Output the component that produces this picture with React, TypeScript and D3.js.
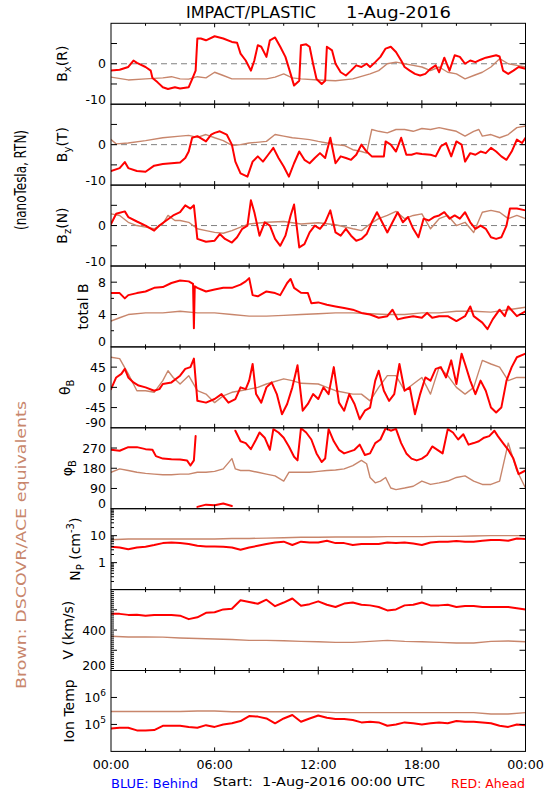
import React from "react";
import * as d3 from "d3";

type Pt = [number, number];

// ---------------- data (hour of day, value) ----------------
const bxAhead: Pt[] = [[0,-1.7],[0.5,-1.5],[1,-0.8],[1.3,0.8],[1.5,0.2],[2,-0.8],[2.3,-1.7],[2.4,-3.5],[2.7,-4.6],[3,-5.8],[3.3,-6.25],[3.7,-5.8],[4,-6.1],[4.5,-5.8],[4.7,-3.8],[4.9,-1.7],[5.0,6.25],[5.2,6.25],[5.5,5.8],[6,6.8],[6.5,6.25],[7,5.4],[7.3,5.2],[7.5,2.5],[7.8,0.8],[8.1,-1.7],[8.3,0.8],[8.5,4.6],[8.7,4.2],[9,1.7],[9.2,5.8],[9.5,6.5],[9.8,4.2],[10.1,1.7],[10.4,-2.5],[10.6,-5.4],[10.9,-4.2],[11,4.6],[11.3,4.8],[11.5,4.2],[11.7,0],[11.9,-3.75],[12.2,-5],[12.4,-4.2],[12.5,4.2],[12.8,3.3],[13,0],[13.3,-2.1],[13.6,-2.9],[13.9,-1.7],[14.2,-0.4],[14.5,-0.8],[14.8,0],[15,-0.8],[15.3,0.4],[15.6,1.7],[15.9,3.75],[16.2,4.2],[16.5,2.9],[16.8,0.8],[17,-0.8],[17.3,-1.7],[17.6,-2.5],[17.9,-2.9],[18.2,-2.5],[18.5,-1.25],[18.8,-0.4],[19,-2.1],[19.3,1.5],[19.6,-1.7],[19.9,2.1],[20.2,1.7],[20.5,0],[20.8,0.8],[21.1,0.4],[21.4,1],[21.7,1.5],[22,1.8],[22.3,2.1],[22.5,1.8],[22.7,-1.7],[23,-2.5],[23.3,-1.7],[23.6,-0.8],[24,-1.25]];
const bxBehind: Pt[] = [[0,-3.3],[1,-4],[2,-3.75],[3,-3.5],[3.5,-3.2],[4,-3.75],[4.5,-3.8],[5,-3.2],[5.5,-3.5],[6,-2.1],[6.5,-2.9],[7,-3.75],[8,-3.75],[9,-3.75],[9.5,-3.3],[10,-2.5],[10.5,-3.5],[11,-3.75],[12,-4],[13,-4.2],[14,-3.75],[15,-2.5],[15.5,-1.7],[16,0],[16.5,0.4],[17,0],[17.5,-0.4],[18,-0.8],[18.5,-1.7],[19,-0.8],[19.5,-2.1],[20,-2.5],[20.5,-3.75],[21,-2.9],[21.5,-2.1],[22,-0.8],[22.5,1.25],[23,0],[23.5,-0.4],[24,-0.8]];

const byAhead: Pt[] = [[0,-6.5],[0.5,-5.8],[0.8,-4.3],[1,-5.8],[1.5,-6.5],[2,-6.7],[2.5,-5.2],[3,-4.8],[3.5,-4.6],[4,-4.4],[4.3,-3.3],[4.5,-1.7],[4.7,1.7],[5,2.1],[5.5,0.8],[5.8,2.5],[6,2.9],[6.3,3.3],[6.7,2.5],[7,0],[7.2,-4.2],[7.5,-7.1],[7.9,-7.9],[8.2,-4.2],[8.5,-2.9],[8.8,-4.2],[9.1,-2.5],[9.4,-0.8],[9.7,-3.3],[10,-5.4],[10.3,-7.9],[10.6,-4.6],[10.9,-1.7],[11.2,-3.75],[11.5,-4.6],[11.8,-3.3],[12.1,-2.1],[12.4,-3.3],[12.7,1.7],[13,-4.6],[13.3,-2.9],[13.6,-3.3],[13.9,-3.75],[14.2,-2.5],[14.5,0],[14.8,-1.7],[15.1,-2.9],[15.4,-2.9],[15.8,-2.9],[15.9,0.8],[16.2,0],[16.5,-1.7],[16.8,1.7],[17.1,-2.5],[17.4,-2.5],[17.7,-2.1],[18,-2.3],[18.5,-2.5],[18.8,-2.9],[19.1,-0.4],[19.4,0.4],[19.7,-2.9],[20,0.8],[20.3,0],[20.5,-4.2],[20.8,-2.1],[21.1,-2.5],[21.4,-1.7],[21.7,-2.1],[22,-0.8],[22.3,-1.7],[22.6,-2.9],[22.9,-3.75],[23.2,-1.7],[23.5,1.25],[23.8,0.4],[24,1.7]];
const byBehind: Pt[] = [[0,1.25],[0.3,0.2],[1,0.4],[2,1],[3,1.7],[4,2.1],[4.5,2.3],[5,1.8],[5.5,2.5],[6,1.7],[6.5,1],[7,-0.2],[7.5,0],[8,0.4],[9,0.8],[9.5,2.5],[10,2.1],[10.5,1.7],[11,1.5],[11.5,1.25],[12,0.8],[12.5,0.4],[13,0],[13.5,-0.2],[14,-1.25],[14.5,-1.7],[14.8,-2.1],[15.1,3.75],[15.5,3.3],[16,2.9],[16.5,3.75],[17,3.75],[17.5,3.3],[18,4],[18.5,3.75],[19,4.2],[19.5,3.75],[20,3.3],[20.5,2.1],[21,3.3],[21.3,3.75],[21.5,2.1],[22,2.5],[22.5,1.7],[23,2.5],[23.5,4.2],[24,4.6]];

const bzAhead: Pt[] = [[0,0.4],[0.3,2.9],[0.8,3.5],[1,2.1],[1.5,1],[2,0],[2.5,-1.25],[2.8,0],[3.2,1.25],[3.6,2.5],[4,3.3],[4.3,5],[4.6,4.2],[4.8,5],[5,-3.3],[5.5,-4],[6,-3.75],[6.3,-2.1],[6.6,-3.3],[7,-4.2],[7.3,-2.9],[7.6,-0.8],[7.9,0],[8.1,6.25],[8.3,3.3],[8.6,-2.5],[8.9,0.8],[9.2,0],[9.5,-3.3],[9.8,-5],[10.1,-2.5],[10.4,2.5],[10.6,5.2],[10.9,-5.4],[11.2,-4.6],[11.5,-1.7],[11.8,0],[12.1,-0.8],[12.4,0.8],[12.7,3.75],[13,-1.7],[13.3,-2.5],[13.6,-0.8],[13.9,-2.5],[14.2,-3.75],[14.5,-3.3],[14.8,-2.1],[15.1,0.8],[15.4,3.3],[15.7,0.8],[16,-1.7],[16.3,0.8],[16.6,3.3],[16.9,0.8],[17.2,2.1],[17.5,-0.8],[17.8,-2.9],[18.1,1.7],[18.4,1.25],[18.7,2.1],[19,2.5],[19.3,3.3],[19.6,1.7],[19.9,2.5],[20.2,1.7],[20.5,3.3],[20.8,0.8],[21.1,-0.8],[21.4,0],[21.7,-0.8],[22,-2.9],[22.3,-3.3],[22.6,-2.9],[22.9,0],[23.1,4.2],[23.5,4.2],[24,3.75]];
const bzBehind: Pt[] = [[0,2.9],[0.5,2.5],[1,0.8],[1.5,0],[2,-0.4],[2.5,-0.8],[3,0.4],[3.3,2.5],[3.7,1.25],[4,1.25],[4.5,0.8],[5,-0.8],[5.5,-1.25],[6,-1.7],[6.5,-1.9],[7,-1.25],[7.5,-0.4],[8,0.4],[9,0.8],[10,1],[11,0.4],[12,0.7],[13,0.2],[14,-0.8],[14.5,-1.25],[15,0.4],[15.5,1.7],[16,2.5],[16.5,3.5],[17,1.7],[17.5,2.5],[18,2.9],[18.5,-0.8],[19,1.7],[19.5,2.5],[20,0],[20.5,0.8],[21,-1.7],[21.5,3.3],[22,3.75],[22.5,3.3],[23,1.7],[23.5,2.5],[24,1.7]];

const totBAhead: Pt[] = [[0,6.65],[0.5,6.65],[0.8,6.0],[1,6.4],[1.5,6.65],[2,6.85],[2.5,7.3],[3,7.4],[3.5,7.9],[4,8.2],[4.5,8.1],[4.75,7.8],[4.8,2.3],[4.85,7.5],[5,7.3],[5.5,6.85],[6,7.1],[6.5,7.3],[7,7.3],[7.5,7.7],[7.8,8.1],[8,8.5],[8.2,6.4],[8.5,6.25],[9,6.85],[9.5,6.65],[9.8,6.4],[10.2,7.9],[10.4,8.4],[10.6,7.3],[11,6.7],[11.4,6.65],[11.6,5.4],[12,5.5],[12.5,5.2],[13,5.0],[13.5,4.8],[14,4.6],[14.5,4.2],[15,4.0],[15.5,3.6],[16,3.8],[16.3,4.6],[16.6,3.4],[17,3.6],[17.5,3.8],[18,3.6],[18.3,4.2],[18.6,3.6],[19,3.8],[19.5,3.8],[20,3.2],[20.5,3.8],[20.8,5.0],[21,3.8],[21.5,3.0],[21.8,2.2],[22.1,3.4],[22.5,4.6],[22.8,3.8],[23,5.0],[23.5,3.8],[24,4.4]];
const totBBehind: Pt[] = [[0,3.2],[0.5,3.6],[1,4.0],[2,4.2],[3,4.2],[4,4.4],[5,4.2],[6,4.2],[7,4.0],[8,3.8],[9,3.8],[10,3.9],[11,4.0],[12,4.1],[13,4.2],[14,4.2],[15,4.1],[16,4.0],[17,4.0],[18,4.2],[19,4.2],[20,4.4],[21,4.4],[22,4.3],[23,4.6],[24,4.9]];

const thetaAhead: Pt[] = [[0,-4],[0.3,22],[0.6,30],[0.8,41],[1,22],[1.3,11],[1.6,4],[2,0],[2.5,-7.5],[2.8,-4],[3,7.5],[3.5,11],[4,26],[4.3,41],[4.6,45],[4.8,64],[5,-30],[5.5,-34],[6,-26],[6.4,-15],[6.8,-34],[7.2,-26],[7.5,0],[7.8,-4],[8,15],[8.2,52],[8.4,-15],[8.7,-34],[9,0],[9.3,11],[9.6,-15],[9.9,-60],[10.2,-37],[10.5,0],[10.8,49],[11.1,-52],[11.4,-37],[11.7,-15],[12,-26],[12.3,0],[12.6,-15],[12.9,45],[13.2,-34],[13.5,-52],[13.8,-15],[14.1,-37],[14.4,-71],[14.7,-52],[15,-45],[15.3,15],[15.5,37],[15.8,-7.5],[16.1,-30],[16.4,-15],[16.7,52],[17,-7.5],[17.3,0],[17.6,-60],[17.9,-15],[18.2,22],[18.5,15],[18.8,41],[19.1,45],[19.4,22],[19.7,60],[20,7.5],[20.3,75],[20.5,52],[20.8,15],[21.1,-15],[21.4,15],[21.7,-7.5],[22,-45],[22.3,-56],[22.6,-45],[22.9,15],[23.2,45],[23.5,67],[24,75]];
const thetaBehind: Pt[] = [[0,67],[0.5,64],[1,30],[1.5,-7.5],[2,-7.5],[2.5,-11],[3,15],[3.3,37],[3.6,22],[4,7.5],[4.5,26],[5,-7.5],[5.5,-15],[6,-34],[6.5,-19],[7,-11],[7.5,-7.5],[8,-4],[8.5,0],[9,7.5],[10,19],[10.5,15],[11,9],[12,7.5],[12.5,0],[13,-7.5],[14,-15],[14.5,-15],[15,-30],[15.5,0],[16,26],[16.5,26],[17,-7.5],[17.5,7.5],[18,22],[18.5,-15],[19,45],[19.5,26],[20,0],[20.5,-15],[21,0],[21.5,60],[22,52],[22.5,45],[23,15],[23.5,22],[24,22]];

const phiAhead: Pt[] = [[0,262],[0.5,258],[1,274],[1.5,274],[2,265],[2.4,262],[2.6,234],[3,223],[3.5,220],[4,219],[4.4,215],[4.6,192],[4.8,215],[4.9,323],[5,8],[5.5,18],[6,15],[6.5,23],[7,12],[7.2,347],[7.5,300],[7.8,292],[8.1,265],[8.4,308],[8.6,339],[8.9,316],[9.2,262],[9.4,354],[9.7,339],[10,316],[10.3,277],[10.6,231],[10.8,215],[11,358],[11.3,339],[11.6,308],[11.9,246],[12.2,208],[12.4,223],[12.6,354],[12.9,300],[13.2,262],[13.5,246],[13.8,254],[14.1,262],[14.4,285],[14.7,239],[15,246],[15.3,292],[15.6,308],[15.9,358],[16.2,347],[16.5,355],[16.8,292],[17.1,246],[17.4,223],[17.7,215],[18,223],[18.3,239],[18.6,277],[18.9,262],[19.2,246],[19.5,354],[19.8,339],[20.1,308],[20.4,331],[20.7,285],[21,292],[21.3,300],[21.6,316],[21.9,323],[22.2,347],[22.4,323],[22.7,292],[23,262],[23.3,223],[23.6,154],[24,170]];
const phiBehind: Pt[] = [[0,162],[0.5,177],[1,170],[1.5,162],[2,157],[2.5,154],[3,151],[3.5,151],[4,154],[4.5,154],[5,162],[5.5,162],[6,166],[6.5,177],[7,223],[7.2,177],[7.5,170],[8,170],[8.5,162],[9,154],[9.5,146],[10,123],[10.3,162],[11,162],[11.5,162],[12,166],[12.5,170],[13,172],[13.5,177],[14,192],[14.5,215],[14.8,200],[15,139],[15.3,115],[15.6,123],[15.9,139],[16.2,92],[16.5,85],[17,92],[17.5,100],[18,123],[18.5,108],[19,115],[19.5,123],[20,139],[20.5,146],[21,123],[21.5,108],[22,108],[22.5,123],[23,292],[23.5,170],[24,92]];

// half-hourly and hourly grids for plasma data
const halfHours: number[] = [0,0.5,1,1.5,2,2.5,3,3.5,4,4.5,5,5.5,6,6.5,7,7.5,8,8.5,9,9.5,10,10.5,11,11.5,12,12.5,13,13.5,14,14.5,15,15.5,16,16.5,17,17.5,18,18.5,19,19.5,20,20.5,21,21.5,22,22.5,23,23.5,24];
const wholeHours: number[] = [0,1,2,3,4,5,6,7,8,9,10,11,12,13,14,15,16,17,18,19,20,21,22,23,24];

const npAheadValues = [3.9,3.65,3.16,3.65,3.9,4.5,5.3,5.6,5.3,4.9,4.2,4.0,4.0,3.9,3.65,3.0,3.65,4.2,4.9,5.6,6.0,4.5,6.0,5.6,5.6,6.5,5.3,5.3,4.5,4.9,4.9,4.9,5.6,5.3,5.6,5.1,4.5,5.6,6.0,6.0,6.3,6.0,6.0,6.5,6.9,6.9,6.5,7.9,7.5];
const npBehindValues = [7.1,7.5,7.5,7.5,7.5,7.5,7.5,7.9,7.9,8.1,8.4,8.7,8.7,8.9,8.9,8.9,9.2,9.2,9.2,9.4,9.4,9.7,10,10,10];

const vAheadValues = [480,480,475,476,471,475,475,475,471,454,463,485,488,502,505,547,539,530,550,518,536,556,520,528,542,525,514,531,536,525,522,514,497,502,522,525,536,522,522,525,514,519,519,514,514,514,514,508,502];
const vBehindValues = [369,366,366,365,361,358,356,353,349,349,347,344,342,339,339,344,349,344,342,339,336,336,344,346,342];

const tempAheadValues = [71000,75000,75000,60000,60000,62000,89000,89000,89000,81000,75000,94000,81000,100000,110000,133000,204000,195000,166000,110000,166000,224000,126000,166000,214000,178000,158000,158000,145000,119000,126000,119000,89000,100000,119000,110000,100000,110000,119000,110000,133000,126000,126000,119000,110000,89000,81000,100000,94000];
const tempBehindValues = [300000,300000,300000,300000,300000,316000,316000,295000,295000,295000,295000,295000,295000,275000,275000,275000,275000,275000,275000,275000,275000,275000,245000,245000,275000];

const timeTickHours = [0, 6, 12, 18, 24];
const timeTickLabels = ["00:00", "06:00", "12:00", "18:00", "00:00"];
const timeMinorHours = [2, 4, 8, 10, 14, 16, 20, 22];

// ---------------- layout ----------------
const X0 = 111, X1 = 525.5, TOP0 = 23.3, PH = 80.9;
const FONT = "'DejaVu Sans', 'Liberation Sans', sans-serif";
const RED = "#ff0000";
const BROWN = "#c8866c";

const x = d3.scaleLinear().domain([0, 24]).range([X0, X1]);

const zip = (t: number[], v: number[]): Pt[] => t.map((h, i) => [h, v[i]] as Pt);

type Label = { v: number; text: React.ReactNode };
interface PanelDef {
  log?: boolean;
  domain: [number, number];
  ahead: Pt[];
  behind: Pt[];
  labels: Label[];
  ticksLeft: number[];
  ticksRight: number[];
  minorLeft?: number[];
  zero?: boolean;
  title: React.ReactNode;
  titleX: number;
  wrap?: number;
}

const pow = (base: string, e: string) => (
  <>
    {base}
    <tspan dy={-6} fontSize={9}>{e}</tspan>
  </>
);

const logMinor = (decades: number[]) => {
  const out: number[] = [];
  decades.forEach((d) => [2, 3, 4, 5, 6, 7, 8, 9].forEach((m) => out.push(d * m)));
  return out;
};

const panels: PanelDef[] = [
  {
    domain: [-10, 10], ahead: bxAhead, behind: bxBehind, zero: true,
    labels: [{ v: 0, text: "0" }, { v: -10, text: "-10" }],
    ticksLeft: [-5, 0, 5], ticksRight: [-5, 0, 5],
    title: <>B<tspan dy={4} fontSize={10}>x</tspan><tspan dy={-4}>(R)</tspan></>, titleX: 67,
  },
  {
    domain: [-10, 10], ahead: byAhead, behind: byBehind, zero: true,
    labels: [{ v: 0, text: "0" }, { v: -10, text: "-10" }],
    ticksLeft: [-5, 0, 5], ticksRight: [-5, 0, 5],
    title: <>B<tspan dy={4} fontSize={10}>y</tspan><tspan dy={-4}>(T)</tspan></>, titleX: 67,
  },
  {
    domain: [-10, 10], ahead: bzAhead, behind: bzBehind, zero: true,
    labels: [{ v: 0, text: "0" }, { v: -10, text: "-10" }],
    ticksLeft: [-5, 0, 5], ticksRight: [-5, 0, 5],
    title: <>B<tspan dy={4} fontSize={10}>z</tspan><tspan dy={-4}>(N)</tspan></>, titleX: 67,
  },
  {
    domain: [0, 10], ahead: totBAhead, behind: totBBehind,
    labels: [{ v: 8, text: "8" }, { v: 4, text: "4" }, { v: 0, text: "0" }],
    ticksLeft: [4, 8], ticksRight: [4, 8], minorLeft: [2, 6],
    title: <>total B</>, titleX: 88,
  },
  {
    domain: [-90, 90], ahead: thetaAhead, behind: thetaBehind,
    labels: [{ v: 45, text: "45" }, { v: 0, text: "0" }, { v: -45, text: "-45" }, { v: -90, text: "-90" }],
    ticksLeft: [-45, 0, 45], ticksRight: [-45, 0, 45],
    title: <>θ<tspan dy={4} fontSize={10}>B</tspan></>, titleX: 70,
  },
  {
    domain: [0, 360], ahead: phiAhead, behind: phiBehind, wrap: 200,
    labels: [{ v: 270, text: "270" }, { v: 180, text: "180" }, { v: 90, text: "90" }, { v: 0, text: "0" }],
    ticksLeft: [90, 180, 270], ticksRight: [90, 180, 270],
    title: <>φ<tspan dy={4} fontSize={10}>B</tspan></>, titleX: 72,
  },
  {
    log: true, domain: [0.1, 100], ahead: zip(halfHours, npAheadValues), behind: zip(wholeHours, npBehindValues),
    labels: [{ v: 10, text: "10" }, { v: 1, text: "1" }],
    ticksLeft: [1, 10], ticksRight: [1, 10], minorLeft: logMinor([0.1, 1, 10]),
    title: <>N<tspan dy={4} fontSize={10}>P</tspan><tspan dy={-4}> (cm</tspan><tspan dy={-6} fontSize={10}>-3</tspan><tspan dy={6}>)</tspan></>,
    titleX: 80,
  },
  {
    domain: [200, 600], ahead: zip(halfHours, vAheadValues), behind: zip(wholeHours, vBehindValues),
    labels: [{ v: 400, text: "400" }, { v: 200, text: "200" }],
    ticksLeft: [300, 400, 500], ticksRight: [300, 400],
    minorLeft: d3.range(210, 600, 10).filter((v) => v % 100 !== 0),
    title: <>V (km/s)</>, titleX: 73,
  },
  {
    log: true, domain: [1e4, 1e7], ahead: zip(halfHours, tempAheadValues), behind: zip(wholeHours, tempBehindValues),
    labels: [{ v: 1e6, text: pow("10", "6") }, { v: 1e5, text: pow("10", "5") }],
    ticksLeft: [1e5, 1e6], ticksRight: [1e5, 1e6],
    title: <>Ion Temp</>, titleX: 74,
  },
];

function splitWrap(pts: Pt[], wrap?: number): Pt[][] {
  if (!wrap) return [pts];
  const segs: Pt[][] = [];
  let cur: Pt[] = [];
  pts.forEach((p, i) => {
    if (i > 0 && Math.abs(p[1] - pts[i - 1][1]) > wrap) {
      segs.push(cur);
      cur = [];
    }
    cur.push(p);
  });
  segs.push(cur);
  return segs;
}

const Panel: React.FC<{ def: PanelDef; idx: number }> = ({ def, idx }) => {
  const top = TOP0 + idx * PH;
  const bottom = top + PH;
  const y = def.log
    ? d3.scaleLog().domain(def.domain).range([bottom, top])
    : d3.scaleLinear().domain(def.domain).range([bottom, top]);
  const line = d3
    .line<Pt>()
    .x((d) => x(d[0]))
    .y((d) => y(d[1]));
  const clipId = `clip${idx}`;
  const cy = (top + bottom) / 2;
  return (
    <g>
      <defs>
        <clipPath id={clipId}>
          <rect x={X0} y={top} width={X1 - X0} height={PH} />
        </clipPath>
      </defs>
      {def.zero && (
        <line x1={X0} x2={X1} y1={y(0)} y2={y(0)} stroke="#808080" strokeWidth={1} strokeDasharray="6 4" />
      )}
      <g clipPath={`url(#${clipId})`} fill="none" strokeLinejoin="round" strokeLinecap="round">
        {splitWrap(def.behind, def.wrap).map((seg, i) => (
          <path key={`b${i}`} d={line(seg) || ""} stroke={BROWN} strokeWidth={1.4} />
        ))}
        {splitWrap(def.ahead, def.wrap).map((seg, i) => (
          <path key={`a${i}`} d={line(seg) || ""} stroke={RED} strokeWidth={2} />
        ))}
      </g>
      <rect x={X0} y={top} width={X1 - X0} height={PH} fill="none" stroke="#000" strokeWidth={1} />
      {def.ticksLeft.map((v) => (
        <line key={`tl${v}`} x1={X0} x2={X0 + 6} y1={y(v)} y2={y(v)} stroke="#000" />
      ))}
      {def.ticksRight.map((v) => (
        <line key={`tr${v}`} x1={X1 - 6} x2={X1} y1={y(v)} y2={y(v)} stroke="#000" />
      ))}
      {(def.minorLeft || []).map((v) => (
        <line key={`ml${v}`} x1={X0} x2={X0 + 3} y1={y(v)} y2={y(v)} stroke="#000" />
      ))}
      {timeTickHours.slice(1, -1).map((h) => (
        <g key={`xt${h}`}>
          <line x1={x(h)} x2={x(h)} y1={top} y2={top + 4} stroke="#000" />
          <line x1={x(h)} x2={x(h)} y1={bottom} y2={bottom - 4} stroke="#000" />
        </g>
      ))}
      {timeMinorHours.map((h) => (
        <g key={`xm${h}`}>
          <line x1={x(h)} x2={x(h)} y1={top} y2={top + 2.5} stroke="#000" />
          <line x1={x(h)} x2={x(h)} y1={bottom} y2={bottom - 2.5} stroke="#000" />
        </g>
      ))}
      {def.labels.map((l) => {
        const atBottom = l.v === def.domain[0];
        return (
          <text
            key={`lab${l.v}`}
            x={106}
            y={atBottom ? y(l.v) - 0.5 : y(l.v)}
            dy={atBottom ? 0 : "0.36em"}
            textAnchor="end"
            fontFamily={FONT}
            fontSize={12.5}
            fill="#000"
          >
            {l.text}
          </text>
        );
      })}
      <text
        transform={`translate(${def.titleX},${cy}) rotate(-90)`}
        textAnchor="middle"
        fontFamily={FONT}
        fontSize={14}
        fill="#000"
      >
        {def.title}
      </text>
    </g>
  );
};

export default function App() {
  const lastBottom = TOP0 + panels.length * PH;
  return (
    <svg
      width={550}
      height={800}
      viewBox="0 0 550 800"
      style={{ position: "absolute", left: 0, top: 0, background: "#fff" }}
    >
      <rect x={0} y={0} width={550} height={800} fill="#fff" />
      <text x={186} y={18} fontFamily={FONT} fontSize={15} textLength={130} lengthAdjust="spacingAndGlyphs">
        IMPACT/PLASTIC
      </text>
      <text x={346} y={18} fontFamily={FONT} fontSize={15} textLength={105} lengthAdjust="spacingAndGlyphs">
        1-Aug-2016
      </text>
      {panels.map((p, i) => (
        <Panel key={i} def={p} idx={i} />
      ))}
      {timeTickHours.map((h, i) => (
        <text key={`tx${i}`} x={x(h)} y={lastBottom + 18} textAnchor="middle" fontFamily={FONT} fontSize={12.5} textLength={36.5} lengthAdjust="spacingAndGlyphs">
          {timeTickLabels[i]}
        </text>
      ))}
      <text x={111} y={788} fontFamily={FONT} fontSize={13} fill="#0000ff" textLength={87} lengthAdjust="spacingAndGlyphs">
        BLUE: Behind
      </text>
      <text x={213} y={786} fontFamily={FONT} fontSize={13} fill="#000" textLength={212} lengthAdjust="spacingAndGlyphs" style={{ whiteSpace: "pre" }}>
        Start:  1-Aug-2016 00:00 UTC
      </text>
      <text x={451} y={788} fontFamily={FONT} fontSize={13} fill={RED} textLength={74} lengthAdjust="spacingAndGlyphs">
        RED: Ahead
      </text>
      <text
        transform={`translate(26,180) rotate(-90)`}
        textAnchor="middle"
        fontFamily={FONT}
        fontSize={15}
        textLength={100}
        lengthAdjust="spacingAndGlyphs"
      >
        (nanoTesla, RTN)
      </text>
      <text
        transform={`translate(25.5,545) rotate(-90)`}
        textAnchor="middle"
        fontFamily={FONT}
        fontSize={14}
        fill={BROWN}
        textLength={288}
        lengthAdjust="spacingAndGlyphs"
      >
        Brown: DSCOVR/ACE equivalents
      </text>
    </svg>
  );
}
